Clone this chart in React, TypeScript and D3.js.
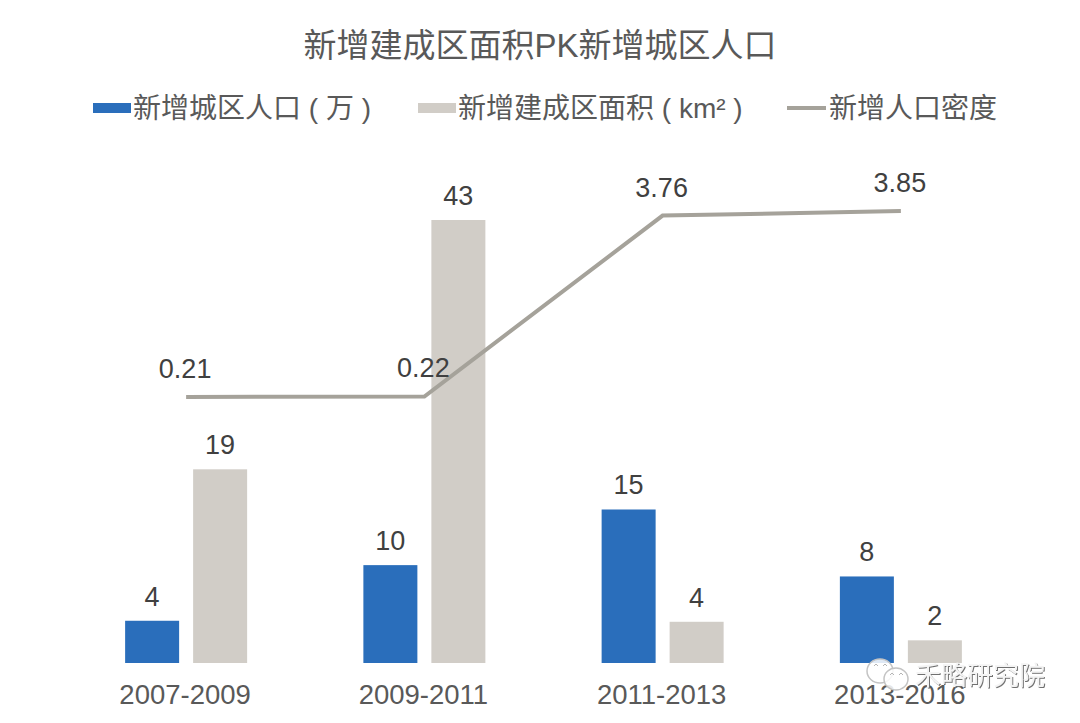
import React from 'react';
import * as d3 from 'd3';

const categories = ['2007-2009', '2009-2011', '2011-2013', '2013-2016'];
// bar heights, labels show them rounded
const population = [4.1, 9.5, 14.9, 8.4];
const area = [18.8, 43, 4, 2.2];
const density = [0.21, 0.22, 3.76, 3.85];

const WIDTH = 1080;
const HEIGHT = 723;
const FONT = '"Liberation Sans", "Noto Sans CJK SC", sans-serif';
const BLUE = '#2a6ebb';
const SAND = '#d1cdc7';
const GREY = '#a5a29a';
const TEXT = '#595959';
const LABEL = '#404040';

const x = d3.scaleBand<string>().domain(categories).range([67, 1020]);
const yBar = d3.scaleLinear().domain([0, 43]).range([663, 220]);
const yLine = d3.scaleLinear().domain([0.21, 3.85]).range([397, 211]);
const BAR_W = 54;
const GAP = 14;

const line = d3
  .line<number>()
  .x((_, i) => (x(categories[i]) ?? 0) + x.bandwidth() / 2)
  .y(d => yLine(d));

export default function App() {
  return (
    <svg
      width={WIDTH}
      height={HEIGHT}
      style={{ position: 'absolute', left: 0, top: 0, background: '#fff' }}
      fontFamily={FONT}
    >
      <defs>
        <filter id="wm-shadow" x="-5%" y="-10%" width="110%" height="130%">
          <feDropShadow dx={1} dy={1} stdDeviation={0.5} floodColor="#707070" />
        </filter>
      </defs>

      <text x={540} y={57} textAnchor="middle" fontSize={33} fill={TEXT}>
        新增建成区面积PK新增城区人口
      </text>

      {/* 图例 */}
      <rect x={93} y={103} width={38} height={10} fill={BLUE} />
      <text x={133} y={118} fontSize={28} fill={TEXT}>新增城区人口 ( 万 )</text>
      <rect x={418} y={103} width={38} height={10} fill={SAND} />
      <text x={458} y={118} fontSize={28} fill={TEXT}>新增建成区面积 ( km² )</text>
      <line x1={787} x2={826} y1={108} y2={108} stroke={GREY} strokeWidth={4} />
      <text x={829} y={118} fontSize={28} fill={TEXT}>新增人口密度</text>

      {categories.map((c, i) => {
        const cx = (x(c) ?? 0) + x.bandwidth() / 2;
        const bx1 = cx - GAP / 2 - BAR_W;
        const bx2 = cx + GAP / 2;
        return (
          <g key={c}>
            <rect x={bx1} y={yBar(population[i])} width={BAR_W} height={yBar(0) - yBar(population[i])} fill={BLUE} />
            <rect x={bx2} y={yBar(area[i])} width={BAR_W} height={yBar(0) - yBar(area[i])} fill={SAND} />
            <text x={bx1 + BAR_W / 2} y={yBar(population[i]) - 15} textAnchor="middle" fontSize={27} fill={LABEL}>
              {Math.round(population[i])}
            </text>
            <text x={bx2 + BAR_W / 2} y={yBar(area[i]) - 15} textAnchor="middle" fontSize={27} fill={LABEL}>
              {Math.round(area[i])}
            </text>
            <text x={cx - 1} y={704} textAnchor="middle" fontSize={27.5} fill={TEXT}>
              {c}
            </text>
          </g>
        );
      })}

      <path d={line(density) ?? ''} fill="none" stroke={GREY} strokeWidth={4} />
      {density.map((d, i) => (
        <text
          key={categories[i]}
          x={(x(categories[i]) ?? 0) + x.bandwidth() / 2 - 1}
          y={yLine(d) - 19}
          textAnchor="middle"
          fontSize={27}
          fill={LABEL}
        >
          {d.toFixed(2)}
        </text>
      ))}

      {/* 水印 */}
      <g fill="#fff" fillOpacity={0.85} stroke="#c4c4c4" strokeWidth={1.5}>
        <ellipse cx={880} cy={671} rx={13} ry={12} />
        <ellipse cx={896} cy={679} rx={12} ry={11} />
      </g>
      <g fill="none" stroke="#b5b5b5" strokeWidth={1}>
        <path d="M874 666l2 -2l2 2M883 666l2 -2l2 2" />
        <path d="M890 675l2 -2l2 2M899 675l2 -2l2 2" />
      </g>
      <text x={915} y={685} fontSize={26} fill="#f4f4f4" filter="url(#wm-shadow)">禾略研究院</text>
    </svg>
  );
}
